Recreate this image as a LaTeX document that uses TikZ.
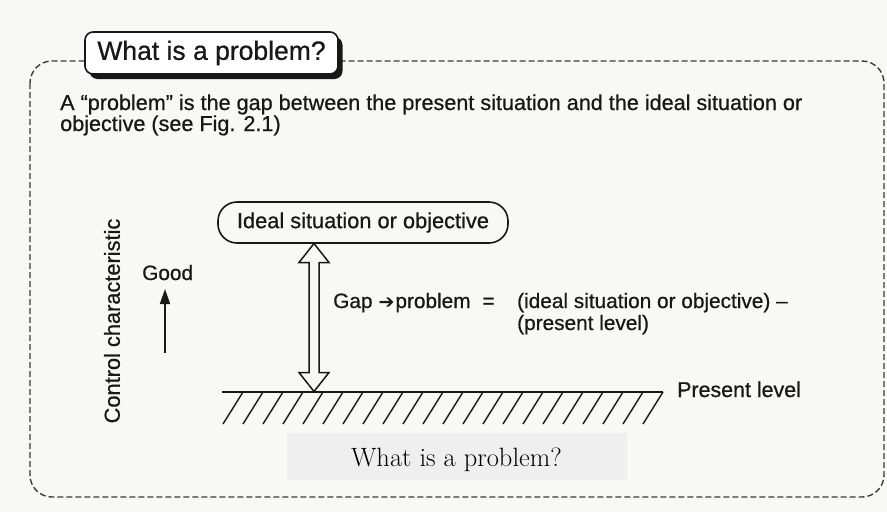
\documentclass[tikz,border=0pt]{standalone}
\usepackage{fontspec}
\setsansfont[FakeBold=0.7]{Liberation Sans}
\newfontfamily\symfont{DejaVu Sans}
\usetikzlibrary{arrows.meta,shadows}
\definecolor{paper}{RGB}{248,248,246}
\definecolor{capgray}{RGB}{239,239,239}
\definecolor{ink}{RGB}{24,24,24}
\tikzset{
  txt/.style={font=\sffamily\fontsize{20.8}{22}\selectfont, text=ink, inner sep=0pt},
  framebox/.style={draw=ink!85, line width=1.4pt, dash pattern=on 6pt off 3pt, rounded corners=22pt},
  titlebox/.style={draw=ink, line width=1.6pt, fill=white, rounded corners=8pt,
    minimum width=253pt, minimum height=42pt, inner sep=0pt,
    font=\sffamily\fontsize{26.5}{28}\selectfont, text=ink,
    drop shadow={shadow xshift=4.5pt, shadow yshift=-5pt, opacity=1, fill=ink}},
  idealbox/.style={draw=ink, line width=1.6pt, fill=paper, rounded corners=19pt,
    minimum width=290pt, minimum height=41pt, inner sep=0pt,
    font=\sffamily\fontsize{21.8}{22}\selectfont, text=ink},
  hollowarrow/.style={draw=ink, line width=1.5pt, fill=paper, line join=miter},
  capbox/.style={fill=capgray, minimum width=340pt, minimum height=47pt, inner sep=0pt},
  captext/.style={font=\fontsize{26.5}{28}\selectfont, text=black, inner sep=0pt},
  groundline/.style={draw=ink, line width=1.8pt},
  hatch/.style={draw=ink, line width=1.4pt}
}
\begin{document}
\begin{tikzpicture}[x=1pt,y=-1pt]
\useasboundingbox[fill=paper] (0,0) rectangle (887,512);

% dashed frame
\draw[framebox] (30,61) rectangle (884,497);

% title
\node[titlebox] (title) at (211.5,53) {What is a problem?};

% statement
\node[txt, anchor=base west, font=\sffamily\fontsize{21.6}{22}\selectfont] (stmt1) at (60,110)
  {A “problem” is the gap between the present situation and the ideal situation or};
\node[txt, anchor=base west, font=\sffamily\fontsize{21.6}{22}\selectfont] (stmt2) at (60,131) {objective (see Fig. 2.1)};

% axis label
\node[txt, rotate=90, font=\sffamily\fontsize{21.8}{22}\selectfont] (ctrl) at (112,321) {Control characteristic};
\node[txt, anchor=base west] (good) at (142,280) {Good};
\coordinate (upfrom) at (165,353);
\coordinate (upto) at (165,289);
\draw[ink, line width=1.7pt, -{Triangle[length=15pt,width=10pt]}] (upfrom) -- (upto);

% ideal box
\node[idealbox] (ideal) at (363,222.5) {Ideal situation or objective};

% present level
\coordinate (gw) at (222,392);
\coordinate (ge) at (663,392);
\foreach \x in {243,263,...,663} \draw[hatch] (\x,392) -- ++(-20,32);
\draw[groundline] (gw) -- (ge);
\node[txt, anchor=base west, font=\sffamily\fontsize{21.4}{22}\selectfont] (present) at (677,397) {Present level};

% gap double arrow
\coordinate (gtop) at (314,243.5);
\coordinate (gbot) at (314,391.5);
\draw[hollowarrow] (gtop) -- ++(15,19) -- ++(-10,0) -- ++(0,110) -- ++(10,0)
  -- (gbot) -- ++(-15,-19) -- ++(10,0) -- ++(0,-110) -- ++(-10,0) -- cycle;

% gap text
\node[txt, anchor=base west] (gap) at (333,308)
  {Gap\hspace{6pt}{\symfont\fontsize{19}{20}\selectfont ➔}\hspace{1pt}problem\hspace{12pt}=};
\node[txt, anchor=base west] (gapr1) at (517,308) {(ideal situation or objective) –};
\node[txt, anchor=base west] (gapr2) at (517,330) {(present level)};

% caption
\node[capbox] (capb) at (457,456.5) {};
\node[captext, anchor=base] (cap) at (456.5,466) {What is a problem?};
\end{tikzpicture}
\end{document}
